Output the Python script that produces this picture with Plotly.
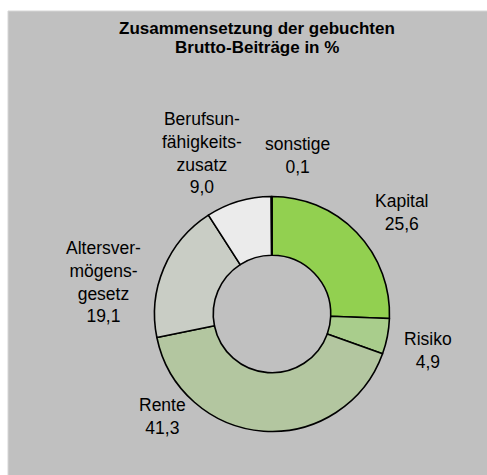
import plotly.graph_objects as go

# Data
categories = ["Kapital", "Risiko", "Rente", "Altersvermögensgesetz",
              "Berufsunfähigkeitszusatz", "sonstige"]
label_lines = [["Kapital"], ["Risiko"], ["Rente"],
               ["Altersver-", "mögens-", "gesetz"],
               ["Berufsun-", "fähigkeits-", "zusatz"], ["sonstige"]]
values = [25.6, 4.9, 41.3, 19.1, 9.0, 0.1]
colors = ["#92D050", "#A9CD8C", "#B3C6A0", "#C9CDC5", "#EBEBEB", "#F2F2F2"]
title_lines = ["Zusammensetzung der gebuchten", "Brutto-Beiträge in %"]

# label anchor positions in pixels (x from left, y from top)
label_pos = [(402, 212), (428, 350), (162, 416), (103, 282), (202, 153), (297, 155)]
title_pos = [(257, 28), (257, 47)]

W, H = 487, 475
cx, cy, r = 272, 314, 117.5

fig = go.Figure()
fig.add_trace(go.Pie(
    labels=categories, values=values, sort=False, direction="clockwise",
    rotation=0, hole=0.5, textinfo="none", hoverinfo="label+value",
    marker=dict(colors=colors, line=dict(color="#000000", width=1.6)),
    domain=dict(x=[(cx - r) / W, (cx + r) / W], y=[(H - cy - r) / H, (H - cy + r) / H]),
    showlegend=False,
))

annotations = []
for t, (px, py) in zip(title_lines, title_pos):
    annotations.append(dict(
        text=f"<b>{t}</b>", x=px / W, y=1 - py / H, xref="paper", yref="paper",
        showarrow=False, xanchor="center", yanchor="middle", align="center",
        font=dict(family="Liberation Sans, Arial", size=17, color="#000000")))

for lines, v, (px, py) in zip(label_lines, values, label_pos):
    txt = "<br>".join(lines + [f"{v:.1f}".replace(".", ",")])
    annotations.append(dict(
        text=txt, x=px / W, y=1 - py / H, xref="paper", yref="paper",
        showarrow=False, xanchor="center", yanchor="middle", align="center",
        font=dict(family="Liberation Sans, Arial", size=17.5, color="#000000")))

fig.update_layout(
    width=W, height=H, margin=dict(l=0, r=0, t=0, b=0),
    paper_bgcolor="#FFFFFF", plot_bgcolor="#FFFFFF",
    annotations=annotations,
    shapes=[dict(type="rect", xref="paper", yref="paper", layer="below",
                 x0=8 / W, x1=1.01, y0=-0.01, y1=1 - 11 / H,
                 fillcolor="#C0C0C0", line=dict(color="#D6D6D6", width=1))],
)

fig.write_html("out.html")
